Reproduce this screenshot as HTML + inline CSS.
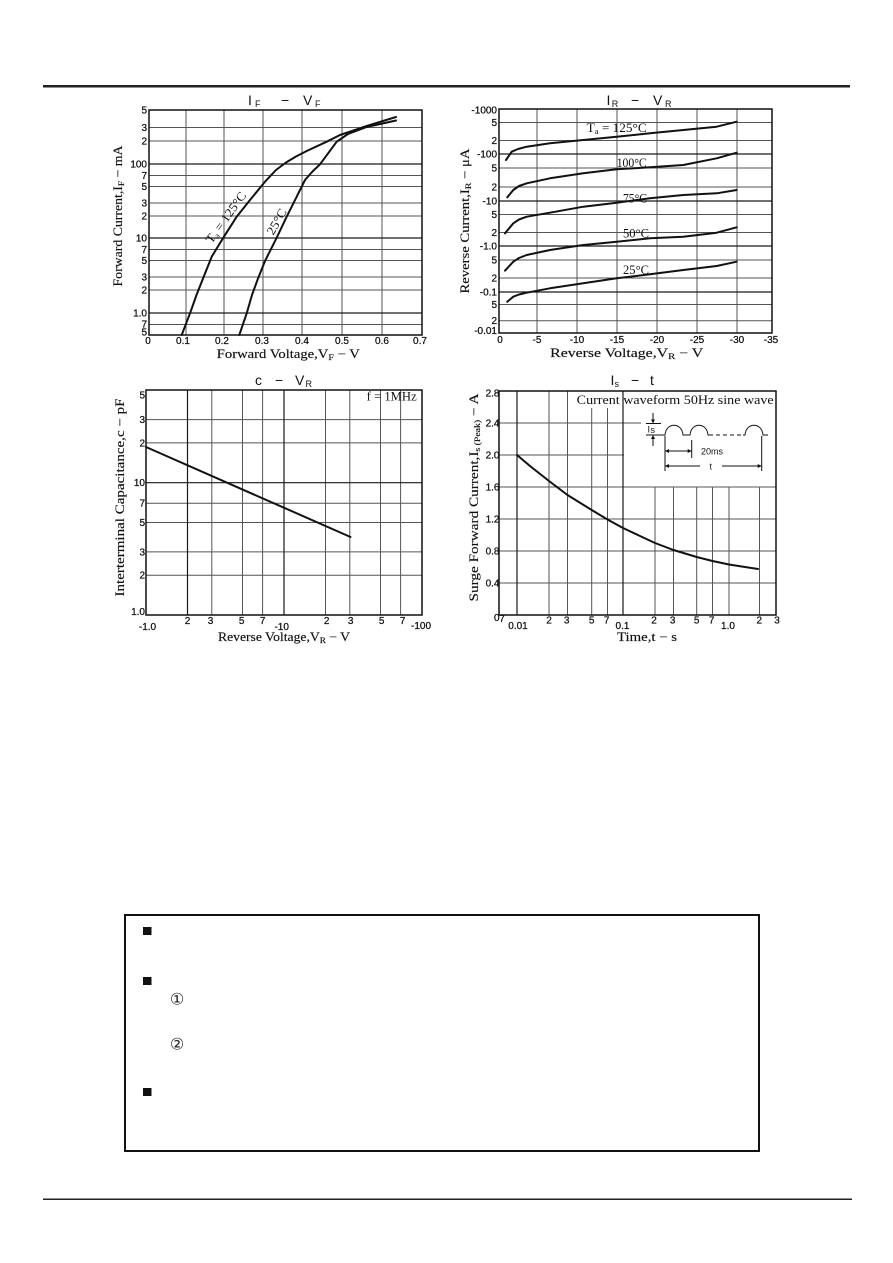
<!DOCTYPE html>
<html>
<head>
<meta charset="utf-8">
<style>
html,body{margin:0;padding:0;background:#fff}
svg{display:block}
.g{stroke:#555;stroke-width:1;fill:none}
.gd{stroke:#1a1a1a;stroke-width:1.2;fill:none}
.fr{fill:none;stroke:#111;stroke-width:1.5}
.cv{fill:none;stroke:#111;stroke-width:2;stroke-linejoin:round;stroke-linecap:round}
.tk{font-family:"Liberation Sans",sans-serif;font-size:10px;fill:#111;stroke:#111;stroke-width:0.25}
.ax{font-family:"Liberation Serif",serif;font-size:12.5px;fill:#111;stroke:#111;stroke-width:0.15}
.ti{font-family:"Liberation Sans",sans-serif;font-size:14px;fill:#111}
.ts{font-family:"Liberation Sans",sans-serif;font-size:9px;fill:#111}
.lb{font-family:"Liberation Serif",serif;font-size:12.5px;fill:#111}
.thin{stroke:#111;stroke-width:1;fill:none}
</style>
</head>
<body>
<svg width="893" height="1263" viewBox="0 0 893 1263" xmlns="http://www.w3.org/2000/svg">
<rect x="0" y="0" width="893" height="1263" fill="#fff"/>
<!-- header / footer rules -->
<rect x="43" y="85" width="807" height="2.5" fill="#222"/>
<rect x="43" y="1198.5" width="809" height="1.5" fill="#222"/>

<!-- ================= TOP LEFT: IF - VF ================= -->
<g>
  <g class="g">
    <line x1="149" y1="127.5" x2="422" y2="127.5"/>
    <line x1="149" y1="141" x2="422" y2="141"/>
    <line x1="149" y1="175.5" x2="422" y2="175.5"/>
    <line x1="149" y1="186.5" x2="422" y2="186.5"/>
    <line x1="149" y1="203" x2="422" y2="203"/>
    <line x1="149" y1="216" x2="422" y2="216"/>
    <line x1="149" y1="249.5" x2="422" y2="249.5"/>
    <line x1="149" y1="260.5" x2="422" y2="260.5"/>
    <line x1="149" y1="277" x2="422" y2="277"/>
    <line x1="149" y1="290" x2="422" y2="290"/>
    <line x1="149" y1="324.5" x2="422" y2="324.5"/>
    <line x1="186" y1="110" x2="186" y2="335"/>
    <line x1="224" y1="110" x2="224" y2="335"/>
    <line x1="263" y1="110" x2="263" y2="335"/>
    <line x1="302" y1="110" x2="302" y2="335"/>
    <line x1="342" y1="110" x2="342" y2="335"/>
    <line x1="382" y1="110" x2="382" y2="335"/>
  </g>
  <g class="gd">
    <line x1="149" y1="164" x2="422" y2="164"/>
    <line x1="149" y1="238" x2="422" y2="238"/>
    <line x1="149" y1="313" x2="422" y2="313"/>
  </g>
  <rect class="fr" x="149" y="110" width="273" height="225"/>
  <polyline class="cv" points="181.7,335 190,313.3 196.5,295 203.3,277.7 211.7,256.7 223.3,237.7 236.7,216.7 250,200 265,181.7 276,170 286,162.5 296,156.5 306.7,151 326.7,141.7 340,135 366.7,126 396,117"/>
  <polyline class="cv" points="239.3,335 246.7,313.3 252,295 258.3,277.7 265,261 276.7,237.7 286.7,216.7 296.7,196.7 305,180 312,172 320,164.3 336.7,141.7 348,134 366.7,127 396,120.5"/>
  <g transform="translate(229.2,219.9) rotate(-54)">
    <text class="lb" x="0" y="0" text-anchor="middle" textLength="60" lengthAdjust="spacingAndGlyphs">T<tspan font-size="8" dy="2">a</tspan><tspan dy="-2"> = 125°C</tspan></text>
  </g>
  <g transform="translate(280.2,223.7) rotate(-60)">
    <text class="lb" x="0" y="0" text-anchor="middle" textLength="28" lengthAdjust="spacingAndGlyphs">25°C</text>
  </g>
  <text class="ti" x="248" y="105">I</text>
  <text class="ts" x="255" y="107" font-size="9.5">F</text>
  <text class="ti" x="281" y="105">−</text>
  <text class="ti" x="303" y="105">V</text>
  <text class="ts" x="315" y="107" font-size="9.5">F</text>
  <g class="tk" text-anchor="end">
    <text x="147" y="113.5">5</text>
    <text x="147" y="131">3</text>
    <text x="147" y="144.5">2</text>
    <text x="147" y="167.5">100</text>
    <text x="147" y="179">7</text>
    <text x="147" y="190">5</text>
    <text x="147" y="206.5">3</text>
    <text x="147" y="219.5">2</text>
    <text x="147" y="241.5">10</text>
    <text x="147" y="253">7</text>
    <text x="147" y="264">5</text>
    <text x="147" y="280.5">3</text>
    <text x="147" y="293.5">2</text>
    <text x="147" y="316.5">1.0</text>
    <text x="147" y="327.5">7</text>
    <text x="147" y="335.5">5</text>
  </g>
  <g class="tk" text-anchor="middle">
    <text x="148" y="344">0</text>
    <text x="183" y="344">0.1</text>
    <text x="222" y="344">0.2</text>
    <text x="262" y="344">0.3</text>
    <text x="302" y="344">0.4</text>
    <text x="342" y="344">0.5</text>
    <text x="382" y="344">0.6</text>
    <text x="420" y="344">0.7</text>
  </g>
  <text class="ax" x="288.3" y="358" text-anchor="middle" textLength="143" lengthAdjust="spacingAndGlyphs">Forward Voltage,V<tspan font-size="8.5" dy="2">F</tspan><tspan dy="-2"> − V</tspan></text>
  <g transform="translate(122,216) rotate(-90)">
    <text class="ax" x="0" y="0" text-anchor="middle" textLength="141" lengthAdjust="spacingAndGlyphs">Forward Current,I<tspan font-size="8.5" dy="2">F</tspan><tspan dy="-2"> − mA</tspan></text>
  </g>
</g>

<!-- ================= TOP RIGHT: IR - VR ================= -->
<g>
  <g class="g">
    <line x1="499" y1="122.5" x2="772" y2="122.5"/>
    <line x1="499" y1="140.5" x2="772" y2="140.5"/>
    <line x1="499" y1="168" x2="772" y2="168"/>
    <line x1="499" y1="187" x2="772" y2="187"/>
    <line x1="499" y1="214.5" x2="772" y2="214.5"/>
    <line x1="499" y1="232.5" x2="772" y2="232.5"/>
    <line x1="499" y1="260" x2="772" y2="260"/>
    <line x1="499" y1="278" x2="772" y2="278"/>
    <line x1="499" y1="304.5" x2="772" y2="304.5"/>
    <line x1="499" y1="320.7" x2="772" y2="320.7"/>
    <line x1="537" y1="109" x2="537" y2="333"/>
    <line x1="577" y1="109" x2="577" y2="333"/>
    <line x1="617" y1="109" x2="617" y2="333"/>
    <line x1="657" y1="109" x2="657" y2="333"/>
    <line x1="697" y1="109" x2="697" y2="333"/>
    <line x1="737" y1="109" x2="737" y2="333"/>
  </g>
  <g class="gd">
    <line x1="499" y1="154" x2="772" y2="154"/>
    <line x1="499" y1="201" x2="772" y2="201"/>
    <line x1="499" y1="246" x2="772" y2="246"/>
    <line x1="499" y1="292" x2="772" y2="292"/>
  </g>
  <rect class="fr" x="499" y="109" width="273" height="224"/>
  <polyline class="cv" points="506,160 511.7,151.7 518,149 526.7,146.7 550,143.3 583.3,140 616.7,136.7 650,133.3 683.3,130 716.7,126.7 736.7,121.7"/>
  <polyline class="cv" points="507.3,197.3 513.3,190 519,186 526.7,183.3 550,178.3 583.3,173.3 616.7,169.3 650,167.3 683.3,165 716.7,158.3 736.7,152.7"/>
  <polyline class="cv" points="505,233.3 513.3,223.3 519,219.5 526.7,216.7 550,212.7 583.3,206.7 616.7,202.7 650,198.3 683.3,195 716.7,193.3 736.7,190"/>
  <polyline class="cv" points="505,270.7 513.3,261.7 519,258 526.7,255 550,250 583.3,245 616.7,241.7 650,238.3 683.3,236.7 716.7,232.7 736.7,227.3"/>
  <polyline class="cv" points="507.3,301.7 513.3,296.7 519,294.5 526.7,292.7 550,288.3 583.3,283.3 616.7,278.3 650,274.3 683.3,270 716.7,266 736.7,261.7"/>
  <text class="lb" x="586.7" y="132" textLength="60" lengthAdjust="spacingAndGlyphs">T<tspan font-size="8" dy="2">a</tspan><tspan dy="-2"> = 125°C</tspan></text>
  <text class="lb" x="616.7" y="167" textLength="30" lengthAdjust="spacingAndGlyphs">100°C</text>
  <text class="lb" x="623" y="202.5" textLength="24" lengthAdjust="spacingAndGlyphs">75°C</text>
  <text class="lb" x="623" y="237.5" textLength="26" lengthAdjust="spacingAndGlyphs">50°C</text>
  <text class="lb" x="623" y="274" textLength="26" lengthAdjust="spacingAndGlyphs">25°C</text>
  <text class="ti" x="606.5" y="105">I</text>
  <text class="ts" x="611.7" y="107" font-size="9.5">R</text>
  <text class="ti" x="631" y="105">−</text>
  <text class="ti" x="653" y="105">V</text>
  <text class="ts" x="665" y="107" font-size="9.5">R</text>
  <g class="tk" text-anchor="end">
    <text x="497" y="113.5">-1000</text>
    <text x="497" y="126">5</text>
    <text x="497" y="144">2</text>
    <text x="497" y="157.5">-100</text>
    <text x="497" y="171.5">5</text>
    <text x="497" y="190.5">2</text>
    <text x="497" y="204.5">-10</text>
    <text x="497" y="218">5</text>
    <text x="497" y="236">2</text>
    <text x="497" y="249.5">-1.0</text>
    <text x="497" y="263.5">5</text>
    <text x="497" y="281.5">2</text>
    <text x="497" y="295.5">-0.1</text>
    <text x="497" y="308">5</text>
    <text x="497" y="324">2</text>
    <text x="497" y="334">-0.01</text>
  </g>
  <g class="tk" text-anchor="middle">
    <text x="500" y="343">0</text>
    <text x="537" y="343">-5</text>
    <text x="577" y="343">-10</text>
    <text x="617" y="343">-15</text>
    <text x="657" y="343">-20</text>
    <text x="697" y="343">-25</text>
    <text x="737" y="343">-30</text>
    <text x="771" y="343">-35</text>
  </g>
  <text class="ax" x="626.7" y="357" text-anchor="middle" textLength="153" lengthAdjust="spacingAndGlyphs">Reverse Voltage,V<tspan font-size="8.5" dy="2">R</tspan><tspan dy="-2"> − V</tspan></text>
  <g transform="translate(469,221) rotate(-90)">
    <text class="ax" x="0" y="0" text-anchor="middle" textLength="145" lengthAdjust="spacingAndGlyphs">Reverse Current,I<tspan font-size="8.5" dy="2">R</tspan><tspan dy="-2"> − μA</tspan></text>
  </g>
</g>

<!-- ================= BOTTOM LEFT: c - VR ================= -->
<g>
  <g class="g">
    <line x1="146" y1="419.6" x2="422" y2="419.6"/>
    <line x1="146" y1="442.9" x2="422" y2="442.9"/>
    <line x1="146" y1="503.2" x2="422" y2="503.2"/>
    <line x1="146" y1="522.5" x2="422" y2="522.5"/>
    <line x1="146" y1="551.9" x2="422" y2="551.9"/>
    <line x1="146" y1="575.2" x2="422" y2="575.2"/>
    <line x1="211.8" y1="390" x2="211.8" y2="615"/>
    <line x1="242.5" y1="390" x2="242.5" y2="615"/>
    <line x1="262.6" y1="390" x2="262.6" y2="615"/>
    <line x1="325.5" y1="390" x2="325.5" y2="615"/>
    <line x1="349.8" y1="390" x2="349.8" y2="615"/>
    <line x1="380.5" y1="390" x2="380.5" y2="615"/>
    <line x1="400.6" y1="390" x2="400.6" y2="615"/>
  </g>
  <g class="gd">
    <line x1="146" y1="482.7" x2="422" y2="482.7"/>
    <line x1="187.5" y1="390" x2="187.5" y2="615"/>
    <line x1="284" y1="390" x2="284" y2="615"/>
  </g>
  <rect class="fr" x="146" y="390" width="276" height="225"/>
  <line class="cv" x1="146" y1="447" x2="350.5" y2="537"/>
  <text class="lb" x="366.7" y="400.5" textLength="50" lengthAdjust="spacingAndGlyphs">f = 1MHz</text>
  <text class="ti" x="255" y="385">c</text>
  <text class="ti" x="275" y="385">−</text>
  <text class="ti" x="295" y="385">V</text>
  <text class="ts" x="305.5" y="387" font-size="9.5">R</text>
  <g class="tk" text-anchor="end">
    <text x="145" y="398.5">5</text>
    <text x="145" y="423">3</text>
    <text x="145" y="446.5">2</text>
    <text x="145" y="486.2">10</text>
    <text x="145" y="506.7">7</text>
    <text x="145" y="526">5</text>
    <text x="145" y="555.4">3</text>
    <text x="145" y="578.7">2</text>
    <text x="145" y="615">1.0</text>
  </g>
  <g class="tk" text-anchor="middle">
    <text x="147.5" y="630">-1.0</text>
    <text x="187.5" y="624">2</text>
    <text x="210.5" y="624">3</text>
    <text x="241.7" y="624">5</text>
    <text x="262.7" y="624">7</text>
    <text x="281.7" y="630">-10</text>
    <text x="326.7" y="624">2</text>
    <text x="350.7" y="624">3</text>
    <text x="381.7" y="624">5</text>
    <text x="402.7" y="624">7</text>
    <text x="421" y="629">-100</text>
  </g>
  <text class="ax" x="284" y="641" text-anchor="middle" textLength="132" lengthAdjust="spacingAndGlyphs">Reverse Voltage,V<tspan font-size="8.5" dy="2">R</tspan><tspan dy="-2"> − V</tspan></text>
  <g transform="translate(124,497.5) rotate(-90)">
    <text class="ax" x="0" y="0" text-anchor="middle" textLength="198" lengthAdjust="spacingAndGlyphs">Interterminal Capacitance,c − pF</text>
  </g>
</g>

<!-- ================= BOTTOM RIGHT: Is - t ================= -->
<g>
  <g class="g">
    <line x1="499" y1="423" x2="641" y2="423"/>
    <line x1="499" y1="455" x2="624" y2="455"/>
    <line x1="499" y1="487" x2="776" y2="487"/>
    <line x1="499" y1="519" x2="776" y2="519"/>
    <line x1="499" y1="551" x2="776" y2="551"/>
    <line x1="499" y1="583" x2="776" y2="583"/>
    <line x1="549" y1="391" x2="549" y2="615"/>
    <line x1="567.5" y1="391" x2="567.5" y2="615"/>
    <line x1="591.7" y1="408" x2="591.7" y2="615"/>
    <line x1="607.5" y1="408" x2="607.5" y2="615"/>
    <line x1="655" y1="487" x2="655" y2="615"/>
    <line x1="673.5" y1="487" x2="673.5" y2="615"/>
    <line x1="696.7" y1="487" x2="696.7" y2="615"/>
    <line x1="712.5" y1="487" x2="712.5" y2="615"/>
    <line x1="729" y1="487" x2="729" y2="615"/>
    <line x1="759.5" y1="487" x2="759.5" y2="615"/>
  </g>
  <g class="gd">
    <line x1="517" y1="391" x2="517" y2="615"/>
    <line x1="623" y1="391" x2="623" y2="615"/>
  </g>
  <rect class="fr" x="499" y="391" width="277" height="224"/>
  <polyline class="cv" points="517,455 530,466 549,481 567.5,495 591.7,510 607.5,519.5 623,528 640,536 655,543 673.5,550 696.7,557 712.5,561 729,564.5 745,567 758,569"/>
  <text class="lb" x="576.7" y="404" textLength="197" lengthAdjust="spacingAndGlyphs">Current waveform   50Hz sine wave</text>
  <path class="thin" stroke-width="1.6" d="M660,435 L665,435 C666,422 682,422 683,435 L690,435 C691,422 707,422 708,435 L713,435"/>
  <line class="thin" stroke-width="1.6" x1="716" y1="435" x2="743" y2="435" stroke-dasharray="4,3"/>
  <path class="thin" stroke-width="1.6" d="M743,435 L745,435 C746,422 762,422 763,435 L768,435"/>
  <line class="thin" x1="646" y1="423.5" x2="661" y2="423.5"/>
  <line class="thin" x1="646" y1="435" x2="660" y2="435"/>
  <line class="thin" x1="653" y1="413" x2="653" y2="421"/>
  <polygon points="651,419.5 655,419.5 653,423.5" fill="#111"/>
  <line class="thin" x1="653" y1="438" x2="653" y2="446"/>
  <polygon points="651,439 655,439 653,435" fill="#111"/>
  <text class="ts" x="647.5" y="432.5" font-size="9">I</text>
  <text class="ts" x="650.5" y="433" font-size="8">s</text>
  <line class="thin" x1="665" y1="436" x2="665" y2="471"/>
  <line class="thin" x1="691.7" y1="440" x2="691.7" y2="458"/>
  <line class="thin" x1="761.7" y1="436" x2="761.7" y2="471"/>
  <line class="thin" x1="665" y1="451" x2="691.7" y2="451"/>
  <polygon points="665,451 669,449 669,453" fill="#111"/>
  <polygon points="691.7,451 687.7,449 687.7,453" fill="#111"/>
  <text class="ts" x="701" y="454.5" font-size="9.5">20ms</text>
  <line class="thin" x1="665" y1="466" x2="700" y2="466"/>
  <line class="thin" x1="722" y1="466" x2="761.7" y2="466"/>
  <polygon points="665,466 669,464 669,468" fill="#111"/>
  <polygon points="761.7,466 757.7,464 757.7,468" fill="#111"/>
  <text class="ts" x="709.5" y="469.5" font-size="9.5">t</text>
  <text class="ti" x="610.5" y="385">I</text>
  <text class="ts" x="614.5" y="387" font-size="9.5">s</text>
  <text class="ti" x="631" y="385">−</text>
  <text class="ti" x="650" y="385">t</text>
  <g class="tk" text-anchor="end">
    <text x="499.5" y="396.5">2.8</text>
    <text x="499.5" y="426.5">2.4</text>
    <text x="499.5" y="458.5">2.0</text>
    <text x="499.5" y="490.5">1.6</text>
    <text x="499.5" y="522.5">1.2</text>
    <text x="499.5" y="554.5">0.8</text>
    <text x="499.5" y="586.5">0.4</text>
    <text x="499.5" y="621">0</text>
  </g>
  <g class="tk" text-anchor="middle">
    <text x="502" y="622">7</text>
    <text x="518" y="629">0.01</text>
    <text x="549" y="623.5">2</text>
    <text x="566.7" y="623.5">3</text>
    <text x="591.7" y="623.5">5</text>
    <text x="606.7" y="623.5">7</text>
    <text x="622.5" y="629">0.1</text>
    <text x="654" y="623.5">2</text>
    <text x="672.7" y="623.5">3</text>
    <text x="696.7" y="623.5">5</text>
    <text x="711.7" y="623.5">7</text>
    <text x="728" y="629">1.0</text>
    <text x="759.3" y="623.5">2</text>
    <text x="777" y="623.5">3</text>
  </g>
  <text class="ax" x="647" y="641" text-anchor="middle" textLength="60" lengthAdjust="spacingAndGlyphs">Time,t − s</text>
  <g transform="translate(478,497.5) rotate(-90)">
    <text class="ax" x="0" y="0" text-anchor="middle" textLength="208" lengthAdjust="spacingAndGlyphs">Surge Forward Current,I<tspan font-size="8" dy="2">s (Peak)</tspan><tspan dy="-2"> − A</tspan></text>
  </g>
</g>

<!-- ================= Notes box ================= -->
<rect x="125" y="915" width="634" height="236" fill="none" stroke="#111" stroke-width="2"/>
<rect x="143" y="927" width="8.5" height="8" fill="#111"/>
<rect x="143" y="977" width="8.5" height="8" fill="#111"/>
<rect x="143" y="1088" width="8.5" height="8" fill="#111"/>
<text x="177" y="1004.5" text-anchor="middle" font-family="'DejaVu Sans','Noto Sans CJK JP',sans-serif" font-size="16" fill="#222">①</text>
<text x="177" y="1049.5" text-anchor="middle" font-family="'DejaVu Sans','Noto Sans CJK JP',sans-serif" font-size="16" fill="#222">②</text>
</svg>
</body>
</html>
